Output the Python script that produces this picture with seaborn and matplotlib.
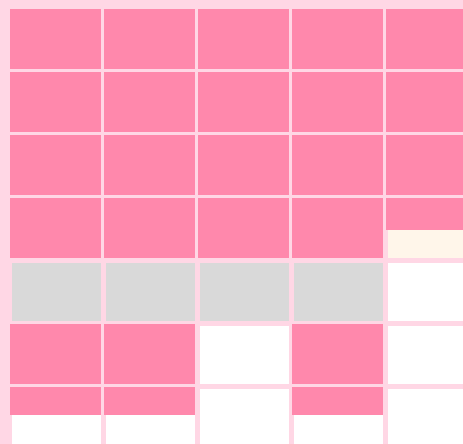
import numpy as np
import pandas as pd
import matplotlib.pyplot as plt
import seaborn as sns
from matplotlib.colors import ListedColormap

# cell state: 0 = empty (white), 1 = pending (cream), 2 = no data (gray)
cell_state = [
    [0, 0, 0, 0, 0],
    [0, 0, 0, 0, 0],
    [0, 0, 0, 0, 0],
    [0, 0, 0, 0, 1],
    [2, 2, 2, 2, 0],
    [0, 0, 0, 0, 0],
    [0, 0, 0, 0, 0],
]

# share of each cell filled with pink, measured from the top
fill_share = [
    [1.00, 1.00, 1.00, 1.00, 1.00],
    [1.00, 1.00, 1.00, 1.00, 1.00],
    [1.00, 1.00, 1.00, 1.00, 1.00],
    [1.00, 1.00, 1.00, 1.00, 0.53],
    [0.00, 0.00, 0.00, 0.00, 0.00],
    [1.00, 1.00, 0.00, 1.00, 0.00],
    [0.47, 0.47, 0.00, 0.47, 0.00],
]

BG = '#ffd7e5'
PINK = '#ff88ac'
GAP_PX = 3.4
PITCH_X = 94
PITCH_Y = 63

sns.set_theme(style='white')

fig = plt.figure(figsize=(4.63, 4.44), dpi=100, facecolor=BG)
ax = fig.add_axes([0, 0, 1, 1])

state_df = pd.DataFrame(cell_state)
sns.heatmap(state_df, ax=ax, cmap=ListedColormap(['#ffffff', '#fff6ea', '#d9d9d9']),
            vmin=-0.5, vmax=2.5, cbar=False, linewidths=GAP_PX * 72 / 100,
            linecolor=BG, xticklabels=False, yticklabels=False)

#--------------------------------------------------------------------
#pink fill on top of each cell, kept inside the gaps
#--------------------------------------------------------------------
fill = np.array(fill_share)
rows, cols = fill.shape
gx = GAP_PX / 2 / PITCH_X
gy = GAP_PX / 2 / PITCH_Y
for i in range(rows):
    for j in range(cols):
        if fill[i, j] > 0:
            ax.bar(j + 0.5, fill[i, j] * (1 - 2 * gy), bottom=i + gy,
                   width=1 - 2 * gx, color=PINK, linewidth=0, zorder=3)

ax.set_xlim(-8.5 / PITCH_X, (463 - 8.5) / PITCH_X)
ax.set_ylim((444 - 7.5) / PITCH_Y, -7.5 / PITCH_Y)
ax.axis('off')

fig.savefig('out.png', dpi=100, facecolor=BG)
